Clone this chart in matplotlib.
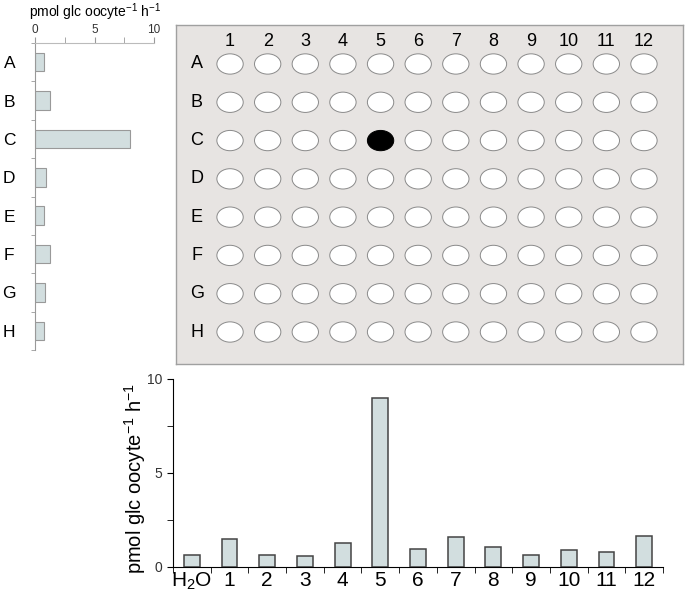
import numpy as np
import matplotlib.pyplot as plt
from matplotlib.patches import Ellipse

plt.rcParams['font.family'] = ['Liberation Sans', 'DejaVu Sans']
plt.rcParams['mathtext.fontset'] = 'custom'
plt.rcParams['mathtext.rm'] = 'Liberation Sans'
plt.rcParams['mathtext.it'] = 'Liberation Sans'
plt.rcParams['mathtext.default'] = 'rm'

# data
rows = ['A', 'B', 'C', 'D', 'E', 'F', 'G', 'H']
row_vals = [0.73, 1.23, 8.0, 0.9, 0.78, 1.26, 0.81, 0.73]
cols = ['1', '2', '3', '4', '5', '6', '7', '8', '9', '10', '11', '12']
col_labels = ['H$_2$O'] + cols
col_vals = [0.65, 1.49, 0.65, 0.60, 1.29, 8.97, 0.96, 1.59, 1.04, 0.65, 0.90, 0.80, 1.65]
hit_row, hit_col = 'C', '5'
unit = 'pmol glc oocyte$^{-1}$ h$^{-1}$'

W, H = 685, 592
fig = plt.figure(figsize=(W / 100, H / 100), dpi=100)

def box(l, t, r, b):
    return [l / W, 1 - b / H, (r - l) / W, (b - t) / H]

bar_face = '#d2dedf'

# ---------------- left: rows bar chart ----------------
ax1 = fig.add_axes(box(35, 43, 154, 350))
y = np.arange(len(rows))
ax1.barh(y, row_vals, height=0.48, color=bar_face, edgecolor='#999999', linewidth=0.8)
ax1.set_xlim(0, 10)
ax1.set_ylim(len(rows) - 0.5, -0.5)
ax1.xaxis.tick_top()
ax1.set_xticks([0, 5, 10])
ax1.set_xticks([2.5, 7.5], minor=True)
ax1.tick_params(axis='x', which='both', direction='out', length=4, color='#999999',
                labelsize=8.5, labelcolor='#333333', pad=1)
ax1.set_yticks(y)
ax1.set_yticklabels(rows, fontsize=12.5, ha='center')
ax1.set_yticks(np.arange(len(rows) + 1) - 0.5, minor=True)
ax1.tick_params(axis='y', which='major', length=0, pad=18.5)
ax1.tick_params(axis='y', which='minor', length=3, color='#999999')
for s in ['right', 'bottom']:
    ax1.spines[s].set_visible(False)
ax1.spines['left'].set_color('#999999')
ax1.spines['top'].set_color('#bbbbbb')
ax1.spines['left'].set_linewidth(0.8)
ax1.spines['top'].set_linewidth(0.8)
fig.text(95 / W, 1 - 12 / H, unit, ha='center', va='center', fontsize=10)

# ---------------- plate ----------------
ax2 = fig.add_axes(box(176, 25, 683, 364))
ax2.set_facecolor('#e7e4e2')
ax2.set_xlim(1 - 54 / 37.6, 12 + 39 / 37.6)
ax2.set_ylim(7 + 32 / 38.3, -39 / 38.3)
ax2.set_xticks([])
ax2.set_yticks([])
for s in ax2.spines.values():
    s.set_color('#a0a0a0')
    s.set_linewidth(1)
for i, r in enumerate(rows):
    ax2.text(0.12, i, r, ha='center', va='center', fontsize=13)
    for j, c in enumerate(cols):
        hit = (r == hit_row and c == hit_col)
        e = Ellipse((j + 1, i), 0.7, 0.53,
                    facecolor='black' if hit else 'white',
                    edgecolor='black' if hit else '#8a8a8a', linewidth=0.7)
        ax2.add_patch(e)
for j, c in enumerate(cols):
    ax2.text(j + 1, -0.6, c, ha='center', va='center', fontsize=13)

# ---------------- bottom: columns bar chart ----------------
ax3 = fig.add_axes(box(173, 379, 663, 567))
x = np.arange(len(col_labels))
ax3.bar(x, col_vals, width=0.42, color=bar_face, edgecolor='#444444', linewidth=1.1)
ax3.set_xlim(-0.5, len(col_labels) - 0.5)
ax3.set_ylim(0, 10)
ax3.set_xticks(x)
ax3.set_xticklabels(col_labels, fontsize=15)
ax3.set_xticks(np.arange(len(col_labels) + 1) - 0.5, minor=True)
ax3.tick_params(axis='x', which='major', length=0, pad=3)
ax3.tick_params(axis='x', which='minor', length=4, direction='out')
ax3.set_yticks([0, 5, 10])
ax3.set_yticks([2.5, 7.5], minor=True)
ax3.tick_params(axis='y', which='both', length=4, direction='out', labelsize=10, labelcolor='#333333')
for s in ['right', 'top']:
    ax3.spines[s].set_visible(False)
ax3.set_ylabel(unit, fontsize=14.5, va='center')
ax3.yaxis.set_label_coords(-0.078, 0.47)

plt.savefig('out.png', dpi=100)
